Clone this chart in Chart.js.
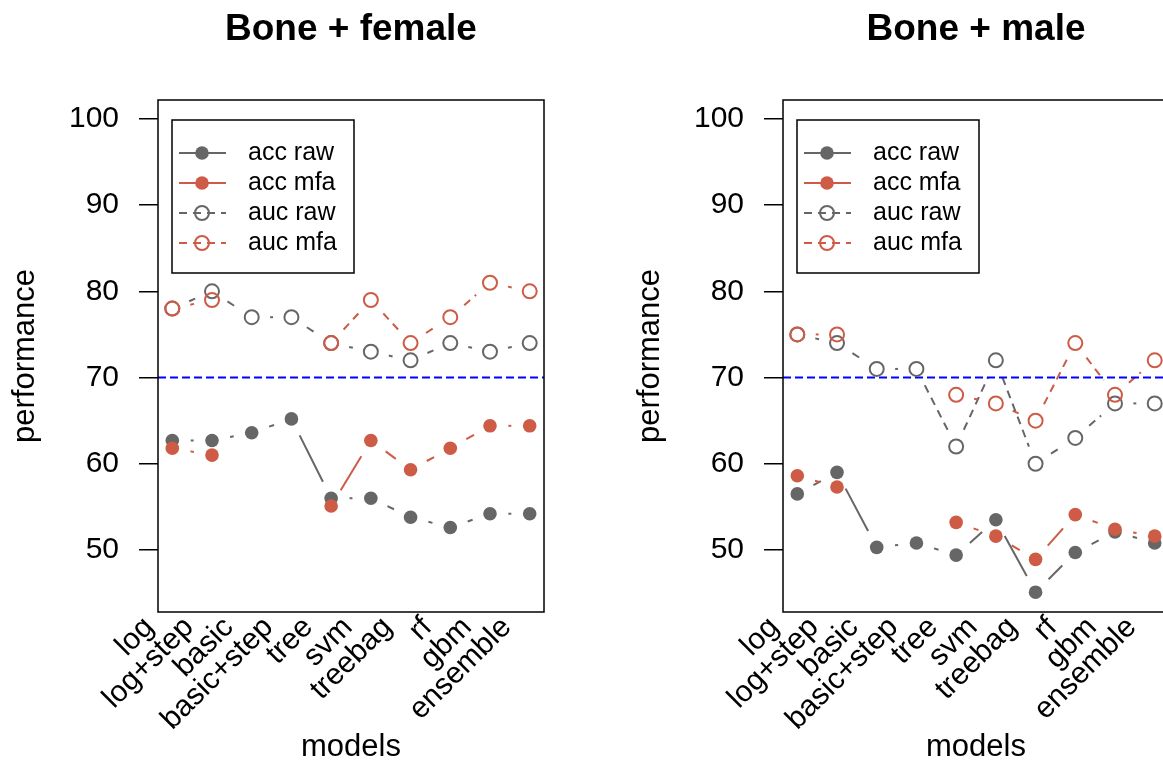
<!DOCTYPE html>
<html>
<head>
<meta charset="utf-8">
<script src="https://cdn.jsdelivr.net/npm/chart.js@4.4.1/dist/chart.umd.min.js"></script>
<style>
  html, body { margin: 0; padding: 0; background: #fff; overflow: hidden; }
  body { width: 1163px; height: 763px; position: relative; }
  canvas { position: absolute; top: 0; }
  #female { left: 0; }
  #male { left: 625px; }
</style>
</head>
<body>
<canvas id="female" width="625" height="763"></canvas>
<canvas id="male" width="625" height="763"></canvas>
<script>
'use strict';

const MODELS = ['log', 'log+step', 'basic', 'basic+step', 'tree', 'svm', 'treebag', 'rf', 'gbm', 'ensemble'];
const Y_TICKS = [50, 60, 70, 80, 90, 100];
const THRESHOLD = 70;
const SERIES_LABELS = ['acc raw', 'acc mfa', 'auc raw', 'auc mfa'];

// Bone + female
const femaleAccRaw = [62.7, 62.7, 63.6, 65.2, 56.0, 56.0, 53.8, 52.6, 54.2, 54.2];
const femaleAccMfa = [61.8, 61.0, null, null, 55.1, 62.7, 59.3, 61.8, 64.4, 64.4];
const femaleAucRaw = [78, 80, 77, 77, 74, 73, 72, 74, 73, 74];
const femaleAucMfa = [78, 79, null, null, 74, 79, 74, 77, 81, 80];

// Bone + male
const maleAccRaw = [56.5, 59.0, 50.3, 50.8, 49.4, 53.5, 45.1, 49.7, 52.1, 50.8];
const maleAccMfa = [58.6, 57.3, null, null, 53.2, 51.6, 48.9, 54.1, 52.4, 51.6];
const maleAucRaw = [75, 74, 71, 71, 62, 72, 60, 63, 67, 67];
const maleAucMfa = [75, 75, null, null, 68, 67, 65, 74, 68, 72];

const GRAY = '#666666';
const RED = '#CD5B45';
const BLUE = '#0000FF';
const FONT = '"Liberation Sans", Arial, Helvetica, sans-serif';
const GAP = 18.4; // R type="b" gap around points
const SERIES_DASH = [8, 6];

Chart.defaults.font.family = FONT;
Chart.defaults.color = '#000';

function toPoints(values) {
  return values.map((v, i) => ({ x: i + 1, y: v }));
}

function series(label, values, color, filled, order) {
  return {
    label: label,
    data: toPoints(values),
    showLine: false,
    borderColor: color,
    backgroundColor: filled ? color : 'rgba(0,0,0,0)',
    pointBackgroundColor: filled ? color : 'rgba(0,0,0,0)',
    pointBorderColor: color,
    pointRadius: filled ? 6.8 : 7,
    pointBorderWidth: filled ? 0 : 2,
    segDash: filled ? [] : SERIES_DASH,
    filled: filled,
    order: order,
  };
}

// lines between points, broken around each point like R's type = "b"
const gapLines = {
  id: 'gapLines',
  beforeDatasetsDraw(chart) {
    const ctx = chart.ctx;
    chart.data.datasets.forEach((ds, di) => {
      const pts = chart.getDatasetMeta(di).data;
      ctx.save();
      ctx.strokeStyle = ds.borderColor;
      ctx.lineWidth = 2;
      ctx.setLineDash(ds.segDash);
      for (let i = 0; i < pts.length - 1; i++) {
        const a = pts[i], b = pts[i + 1];
        if (a.skip || b.skip) continue;
        const dx = b.x - a.x, dy = b.y - a.y;
        const len = Math.hypot(dx, dy);
        if (len <= 2 * GAP) continue;
        const ux = dx / len, uy = dy / len;
        ctx.beginPath();
        ctx.moveTo(a.x + ux * GAP, a.y + uy * GAP);
        ctx.lineTo(b.x - ux * GAP, b.y - uy * GAP);
        ctx.stroke();
      }
      ctx.restore();
    });
  },
};

// blue threshold line, plot box, legend and texts
function decorations(title) {
  return {
    id: 'decorations',
    beforeDatasetsDraw(chart) {
      const { ctx, chartArea, scales } = chart;
      const y = scales.y.getPixelForValue(THRESHOLD);
      ctx.save();
      ctx.strokeStyle = BLUE;
      ctx.lineWidth = 2;
      ctx.setLineDash([8, 4]);
      ctx.beginPath();
      ctx.moveTo(chartArea.left, y);
      ctx.lineTo(chartArea.right, y);
      ctx.stroke();
      ctx.restore();
    },
    afterDraw(chart) {
      const { ctx, chartArea } = chart;
      ctx.save();
      ctx.strokeStyle = '#000';
      ctx.lineWidth = 1.5;
      ctx.strokeRect(chartArea.left, chartArea.top, chartArea.right - chartArea.left, chartArea.bottom - chartArea.top);

      // legend
      const lx = chartArea.left + 14, ly = chartArea.top + 20;
      ctx.strokeRect(lx, ly, 182, 153);
      chart.data.datasets.forEach((ds, i) => {
        const y = ly + 33 + i * 30;
        ctx.save();
        ctx.strokeStyle = ds.borderColor;
        ctx.lineWidth = 2;
        ctx.setLineDash(ds.segDash);
        ctx.beginPath();
        ctx.moveTo(lx + 7, y);
        ctx.lineTo(lx + 54, y);
        ctx.stroke();
        ctx.setLineDash([]);
        ctx.beginPath();
        ctx.arc(lx + 30, y, ds.filled ? 6.8 : 7, 0, Math.PI * 2);
        if (ds.filled) {
          ctx.fillStyle = ds.borderColor;
          ctx.fill();
        } else {
          ctx.stroke();
        }
        ctx.restore();
        ctx.fillStyle = '#000';
        ctx.font = '25px ' + FONT;
        ctx.textAlign = 'left';
        ctx.textBaseline = 'middle';
        ctx.fillText(ds.label, lx + 76, y);
      });

      const cx = (chartArea.left + chartArea.right) / 2;
      const cy = (chartArea.top + chartArea.bottom) / 2;
      ctx.fillStyle = '#000';
      ctx.textAlign = 'center';
      ctx.textBaseline = 'alphabetic';
      ctx.font = 'bold 37px ' + FONT;
      ctx.fillText(title, cx, 40);
      ctx.font = '31px ' + FONT;
      ctx.fillText('models', cx, 756);
      ctx.translate(33.5, cy);
      ctx.rotate(-Math.PI / 2);
      ctx.fillText('performance', 0, 0);
      ctx.restore();
    },
  };
}

function makePanel(id, title, accRaw, accMfa, aucRaw, aucMfa) {
  new Chart(document.getElementById(id), {
    type: 'line',
    data: {
      datasets: [
        series(SERIES_LABELS[0], accRaw, GRAY, true, 4),
        series(SERIES_LABELS[1], accMfa, RED, true, 3),
        series(SERIES_LABELS[2], aucRaw, GRAY, false, 2),
        series(SERIES_LABELS[3], aucMfa, RED, false, 1),
      ],
    },
    options: {
      responsive: false,
      animation: false,
      events: [],
      layout: { padding: { top: 100, right: 81, left: 0, bottom: 0 } },
      plugins: { legend: { display: false }, tooltip: { enabled: false }, title: { display: false } },
      scales: {
        x: {
          type: 'linear',
          min: 0.64,
          max: 10.36,
          afterBuildTicks: s => { s.ticks = MODELS.map((m, i) => ({ value: i + 1 })); },
          afterFit: s => { s.height = 151; },
          grid: { display: false, drawTicks: false },
          border: { display: false },
          ticks: {
            autoSkip: false,
            minRotation: 45,
            maxRotation: 45,
            padding: -2,
            labelOffset: -23,
            color: '#000',
            font: { size: 30 },
            callback: v => MODELS[Math.round(v) - 1],
          },
        },
        y: {
          type: 'linear',
          min: 42.8,
          max: 102.2,
          afterBuildTicks: s => { s.ticks = Y_TICKS.map(v => ({ value: v })); },
          afterFit: s => { s.width = 158; },
          grid: { display: true, drawOnChartArea: false, drawTicks: true, tickLength: 19, color: '#000', lineWidth: 1.5 },
          border: { display: false },
          ticks: { color: '#000', padding: 20, font: { size: 30 } },
        },
      },
    },
    plugins: [gapLines, decorations(title)],
  });
}

makePanel('female', 'Bone + female', femaleAccRaw, femaleAccMfa, femaleAucRaw, femaleAucMfa);
makePanel('male', 'Bone + male', maleAccRaw, maleAccMfa, maleAucRaw, maleAucMfa);
</script>
</body>
</html>
